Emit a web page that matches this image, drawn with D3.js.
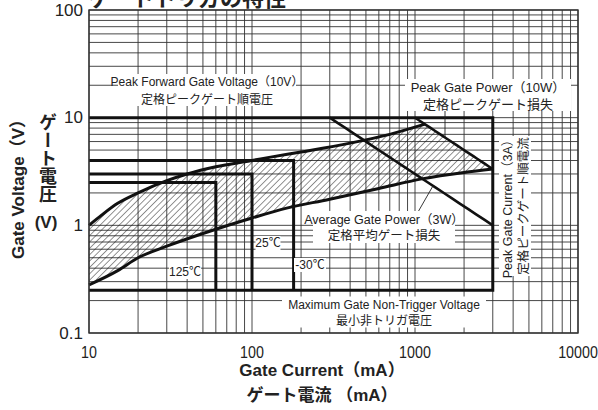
<!DOCTYPE html>
<html lang="ja">
<head>
<meta charset="UTF-8">
<title>Gate characteristics</title>
<script src="https://cdn.jsdelivr.net/npm/d3@7"></script>
<style>
  body { margin: 0; background: #fff; }
  text { font-family: "Liberation Sans", "Noto Sans CJK JP", sans-serif; fill: #222; }
  .jp { font-family: "Noto Sans CJK JP", sans-serif; }
  .bold { font-family: "Liberation Sans", "Noto Sans CJK JP", sans-serif; font-weight: bold; }
</style>
</head>
<body>
<script>
// axis ticks
const xTicks = [10, 100, 1000, 10000];
const yTicks = [0.1, 1, 10, 100];

// gate characteristic curves (mA, V)
const upperCurve = [[10, 1.0], [12, 1.25], [15, 1.6], [20, 2.0], [30, 2.6], [40, 3.0], [60, 3.5], [100, 4.0], [130, 4.3], [200, 4.8], [400, 5.8], [700, 7.0], [1150, 8.7]];
const lowerCurve = [[10, 0.28], [15, 0.38], [20, 0.5], [30, 0.64], [60, 0.92], [100, 1.17], [150, 1.4], [300, 1.75], [600, 2.2], [1100, 2.7], [2000, 3.1], [3000, 3.33]];

// ratings
const peakVoltage = 10;      // V
const peakCurrent = 3000;    // mA
const peakPower = 10;        // W
const avgPower = 3;          // W
const nonTrigger = 0.25;     // V

// gate trigger limits per temperature
const triggerTemps = ["-30℃", "25℃", "125℃"];
const triggerCurrent = [180, 100, 60];   // mA
const triggerVoltage = [4, 3, 2.5];      // V

const W = 598, H = 410;
const svg = d3.select("body").append("svg")
    .attr("width", W).attr("height", H);

const x = d3.scaleLog().domain([10, 10000]).range([89, 578]);
const y = d3.scaleLog().domain([0.1, 100]).range([333, 10]);

// grid
const grid = svg.append("g").attr("stroke", "#333").attr("stroke-width", 0.9);
grid.selectAll(".gx").data(x.ticks()).join("line")
    .attr("x1", d => x(d)).attr("x2", d => x(d))
    .attr("y1", y(100)).attr("y2", y(0.1));
grid.selectAll(".gy").data(y.ticks()).join("line")
    .attr("x1", x(10)).attr("x2", x(10000))
    .attr("y1", d => y(d)).attr("y2", d => y(d));

// hatch pattern
const defs = svg.append("defs");
defs.append("pattern")
    .attr("id", "hatch").attr("patternUnits", "userSpaceOnUse")
    .attr("width", 4.5).attr("height", 4.5)
    .attr("patternTransform", "rotate(45)")
    .append("line").attr("x1", 0).attr("y1", 0).attr("x2", 0).attr("y2", 4.5)
    .attr("stroke", "#111").attr("stroke-width", 0.9);

const line = d3.line().x(d => x(d[0])).y(d => y(d[1])).curve(d3.curveMonotoneX);
const pl = d3.line().x(d => x(d[0])).y(d => y(d[1]));
const powerLine = (p, i0, i1) => d3.range(0, 21).map(k => {
  const i = i0 * Math.pow(i1 / i0, k / 20);
  return [i, p * 1000 / i];
});

// hatched region: upper curve -> 10W line -> lower curve back
const upperEnd = upperCurve[upperCurve.length - 1][0];
const region = line(upperCurve) +
  pl(powerLine(peakPower, upperEnd, peakCurrent)).replace("M", "L") +
  line(lowerCurve.slice().reverse()).replace("M", "L") + "Z";
svg.append("path").attr("d", region).attr("fill", "url(#hatch)");

const thick = svg.append("g").attr("fill", "none").attr("stroke", "#111").attr("stroke-width", 3);

// rating box
thick.append("path").attr("d", d3.line()([
  [x(10), y(peakVoltage)], [x(peakCurrent), y(peakVoltage)],
  [x(peakCurrent), y(nonTrigger)], [x(10), y(nonTrigger)]
]));

// trigger boxes
triggerCurrent.forEach((c, i) => {
  thick.append("path").attr("d", d3.line()([
    [x(10), y(triggerVoltage[i])], [x(c), y(triggerVoltage[i])], [x(c), y(nonTrigger)]
  ]));
});

// curves
thick.append("path").attr("d", line(upperCurve));
thick.append("path").attr("d", line(lowerCurve));

// power lines
thick.append("path").attr("d", pl(powerLine(peakPower, 1000, peakCurrent))).attr("stroke-width", 2.6);
thick.append("path").attr("d", pl(powerLine(avgPower, 300, peakCurrent))).attr("stroke-width", 2.6);

// frame
svg.append("rect").attr("x", x(10)).attr("y", y(100))
   .attr("width", x(10000) - x(10)).attr("height", y(0.1) - y(100))
   .attr("fill", "none").attr("stroke", "#333").attr("stroke-width", 1.4);

// leaders
const lead = svg.append("g").attr("stroke", "#222").attr("stroke-width", 0.9);
lead.append("line").attr("x1", 445).attr("y1", 108).attr("x2", 445).attr("y2", y(peakPower * 1000 / x.invert(445)));
lead.append("line").attr("x1", 418).attr("y1", 212).attr("x2", 433).attr("y2", y(avgPower * 1000 / x.invert(433)));

// labels with white boxes
function label(cx, cy, lines, size, gap, boxW, boxH, rotate) {
  const g = svg.append("g").attr("transform", `translate(${cx},${cy})` + (rotate ? " rotate(-90)" : ""));
  g.append("rect").attr("x", -boxW / 2).attr("y", -boxH / 2).attr("width", boxW).attr("height", boxH).attr("fill", "#fff");
  const n = lines.length;
  lines.forEach((t, k) => {
    g.append("text").attr("class", /[A-Za-z0-9]/.test(t) ? null : "jp")
      .attr("text-anchor", "middle").attr("dominant-baseline", "central")
      .attr("y", (k - (n - 1) / 2) * gap)
      .attr("font-size", size).text(t);
  });
}
label(207, 90, ["Peak Forward Gate Voltage（10V）", "定格ピークゲート順電圧"], 12, 16, 178, 32);
label(488, 95, ["Peak Gate Power（10W）", "定格ピークゲート損失"], 13, 16, 166, 32);
label(384, 227, ["Average Gate Power（3W）", "定格平均ゲート損失"], 12.5, 15, 142, 32);
label(515, 206, ["Peak Gate Current（3A）", "定格ピークゲート順電流"], 12.5, 15, 140, 32, true);
label(384, 312, ["Maximum Gate Non-Trigger Voltage", "最小非トリガ電圧"], 12, 15, 204, 31);

const tempPos = [[310, 265], [268, 243], [185, 272]];
triggerTemps.forEach((t, i) => label(tempPos[i][0], tempPos[i][1], [t], 12, 0, t.length * 7 + 4, 14));

// tick labels (slightly condensed, like the original)
svg.append("g").selectAll("text").data(xTicks).join("text")
   .attr("transform", d => `translate(${x(d)},352) scale(0.84,1)`)
   .attr("text-anchor", "middle")
   .attr("dominant-baseline", "central").attr("font-size", 17)
   .text(d => d);
svg.append("g").selectAll("text").data(yTicks).join("text")
   .attr("x", 83).attr("y", d => y(d)).attr("text-anchor", "end")
   .attr("dominant-baseline", "central").attr("font-size", 17).text(d => d);

// axis titles
svg.append("text").attr("class", "bold").attr("x", 322).attr("y", 376).attr("text-anchor", "middle")
   .attr("font-size", 17).text("Gate Current（mA）");
svg.append("text").attr("class", "jp bold").attr("x", 322).attr("y", 401).attr("text-anchor", "middle")
   .attr("font-size", 17).text("ゲート電流 （mA）");

svg.append("text").attr("class", "bold").attr("transform", "translate(24,185) rotate(-90)").attr("text-anchor", "middle")
   .attr("font-size", 17).text("Gate Voltage（V）");
svg.append("text").attr("class", "jp bold").attr("x", 46).attr("y", 113)
   .attr("font-size", 18).style("writing-mode", "vertical-rl").text("ゲート電圧");
svg.append("text").attr("class", "bold").attr("x", 46).attr("y", 228).attr("text-anchor", "middle")
   .attr("font-size", 17).text("(V)");

// title (cut off at top, as in the reference)
svg.append("text").attr("class", "jp bold").attr("x", 88).attr("y", 6)
   .attr("font-size", 22).text("ゲートトリガの特性");
</script>
</body>
</html>
